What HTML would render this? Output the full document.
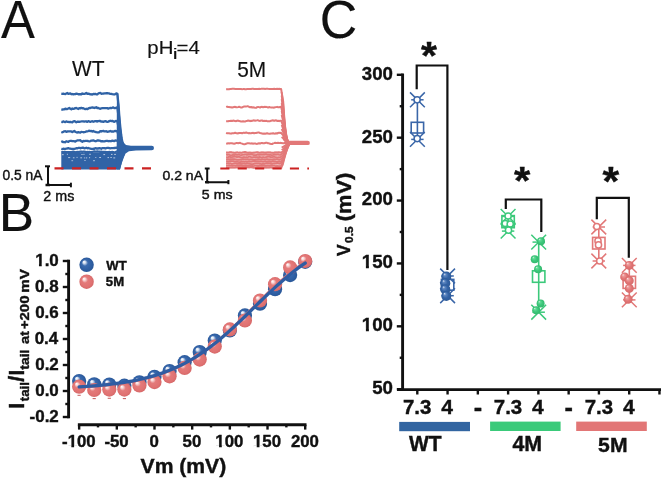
<!DOCTYPE html>
<html><head><meta charset="utf-8"><style>
html,body{margin:0;padding:0;background:#fff;width:661px;height:478px;overflow:hidden}
svg{display:block;font-family:"Liberation Sans",sans-serif;will-change:transform}
text{stroke:#111;stroke-width:0.4px}
text.thin{stroke-width:0.15px}
</style></head><body>
<svg width="661" height="478" viewBox="0 0 661 478">
<rect width="661" height="478" fill="#fff"/>
<text class="thin" x="0.95" y="38.00" font-size="53.92" font-weight="normal" textLength="33.85" lengthAdjust="spacingAndGlyphs" fill="#111">A</text>
<text class="thin" x="147.37" y="54.04" font-size="18.08" font-weight="normal" textLength="26.09" lengthAdjust="spacingAndGlyphs" fill="#111">pH</text>
<text class="thin" x="172.65" y="58.80" font-size="14.62" font-weight="normal" textLength="4.80" lengthAdjust="spacingAndGlyphs" fill="#111">i</text>
<text class="thin" x="176.60" y="53.90" font-size="17.88" font-weight="normal" textLength="23.30" lengthAdjust="spacingAndGlyphs" fill="#111">=4</text>
<text class="thin" x="71.90" y="76.20" font-size="21.80" font-weight="normal" textLength="32.58" lengthAdjust="spacingAndGlyphs" fill="#111">WT</text>
<text class="thin" x="237.27" y="76.59" font-size="21.49" font-weight="normal" textLength="28.95" lengthAdjust="spacingAndGlyphs" fill="#111">5M</text>
<path d="M61.3,152.6 L118.5,152.6 L122,152.6 L124.5,155 L122.5,160 L120,169.6 L61.3,169.6 Z" fill="#3063A6"/>
<path d="M116.9,93.5 L118.3,93.5 L119.6,110 L120.4,120 L121.9,137 L123.3,142.3 L126,144.9 L131,145.7 L151.7,145.7 A2.3,2.3 0 0 1 151.7,150.3 L136,150.5 L129,151.3 L125.6,153.5 L124,157 L121.8,163 L120,169.6 L116.6,169.6 Z" fill="#3063A6"/>
<g fill="none" stroke="#3063A6" stroke-width="2.3" stroke-linejoin="round">
<path d="M61.30,93.66 L62.30,93.86 L63.30,93.73 L64.30,93.97 L65.30,94.11 L66.30,93.46 L67.30,93.03 L68.30,93.86 L69.30,93.56 L70.30,93.35 L71.30,94.23 L72.30,94.02 L73.30,94.37 L74.30,94.09 L75.30,94.15 L76.30,93.54 L77.30,93.82 L78.30,94.28 L79.30,94.08 L80.30,94.24 L81.30,94.24 L82.30,93.44 L83.30,93.90 L84.30,93.93 L85.30,93.56 L86.30,93.00 L87.30,93.77 L88.30,93.68 L89.30,93.94 L90.30,94.29 L91.30,94.26 L92.30,94.51 L93.30,93.96 L94.30,94.18 L95.30,93.83 L96.30,94.27 L97.30,94.43 L98.30,93.50 L99.30,93.03 L100.30,92.87 L101.30,93.75 L102.30,93.54 L103.30,93.67 L104.30,93.31 L105.30,93.38 L106.30,93.25 L107.30,93.13 L108.30,93.36 L109.30,93.48 L110.30,93.96 L111.30,93.92 L112.30,94.22 L113.30,94.29 L114.30,94.49 L115.30,94.18 L116.30,93.35 L117.30,93.79 L118.47,104.37 L119.13,113.95 L119.80,122.11 L120.47,128.94 L121.13,134.53 L121.80,138.98 L122.47,142.38 L123.13,144.86 L123.80,146.51 L124.47,147.48 L125.13,147.91 L125.80,148.00"/>
<path d="M61.30,109.40 L62.30,109.64 L63.30,109.32 L64.30,109.33 L65.30,108.67 L66.30,109.10 L67.30,109.00 L68.30,108.56 L69.30,108.02 L70.30,108.74 L71.30,109.30 L72.30,108.43 L73.30,108.87 L74.30,108.60 L75.30,108.10 L76.30,108.00 L77.30,108.56 L78.30,108.99 L79.30,108.14 L80.30,108.41 L81.30,107.81 L82.30,108.34 L83.30,108.12 L84.30,108.71 L85.30,109.15 L86.30,108.77 L87.30,109.19 L88.30,108.52 L89.30,107.84 L90.30,108.13 L91.30,107.55 L92.30,107.43 L93.30,107.63 L94.30,108.00 L95.30,107.60 L96.30,107.23 L97.30,108.08 L98.30,107.83 L99.30,108.51 L100.30,108.80 L101.30,108.28 L102.30,108.09 L103.30,108.05 L104.30,108.19 L105.30,108.19 L106.30,108.13 L107.30,108.17 L108.30,108.60 L109.30,108.26 L110.30,107.97 L111.30,108.18 L112.30,107.66 L113.30,107.44 L114.30,108.19 L115.30,108.01 L116.30,107.93 L117.30,107.18 L118.47,115.86 L119.13,122.91 L119.80,128.93 L120.47,133.96 L121.13,138.08 L121.80,141.35 L122.47,143.86 L123.13,145.68 L123.80,146.90 L124.47,147.62 L125.13,147.94 L125.80,148.00"/>
<path d="M61.30,121.89 L62.30,122.03 L63.30,121.37 L64.30,121.78 L65.30,122.02 L66.30,121.41 L67.30,121.80 L68.30,121.80 L69.30,122.07 L70.30,121.79 L71.30,122.09 L72.30,122.29 L73.30,121.46 L74.30,121.05 L75.30,121.62 L76.30,122.30 L77.30,121.75 L78.30,121.70 L79.30,121.85 L80.30,121.57 L81.30,121.47 L82.30,121.34 L83.30,121.34 L84.30,121.62 L85.30,121.39 L86.30,121.36 L87.30,121.85 L88.30,121.14 L89.30,121.45 L90.30,121.84 L91.30,121.49 L92.30,121.18 L93.30,121.75 L94.30,121.33 L95.30,121.03 L96.30,121.18 L97.30,121.60 L98.30,121.05 L99.30,121.02 L100.30,121.02 L101.30,121.66 L102.30,121.50 L103.30,121.94 L104.30,121.29 L105.30,121.14 L106.30,121.46 L107.30,121.94 L108.30,121.63 L109.30,121.16 L110.30,120.76 L111.30,121.07 L112.30,120.79 L113.30,121.44 L114.30,121.82 L115.30,121.18 L116.30,120.95 L117.30,121.50 L118.47,126.71 L119.13,131.38 L119.80,135.36 L120.47,138.70 L121.13,141.43 L121.80,143.60 L122.47,145.26 L123.13,146.47 L123.80,147.27 L124.47,147.75 L125.13,147.96 L125.80,148.00"/>
<path d="M61.30,131.98 L62.30,132.29 L63.30,131.85 L64.30,131.33 L65.30,131.24 L66.30,131.85 L67.30,131.49 L68.30,131.39 L69.30,131.42 L70.30,131.44 L71.30,131.43 L72.30,132.08 L73.30,131.45 L74.30,130.89 L75.30,131.80 L76.30,132.22 L77.30,132.58 L78.30,132.06 L79.30,132.43 L80.30,132.61 L81.30,131.78 L82.30,132.00 L83.30,132.24 L84.30,132.14 L85.30,131.89 L86.30,131.45 L87.30,131.27 L88.30,131.02 L89.30,130.67 L90.30,131.15 L91.30,131.01 L92.30,131.62 L93.30,130.95 L94.30,131.69 L95.30,131.82 L96.30,132.19 L97.30,132.35 L98.30,132.44 L99.30,132.06 L100.30,131.12 L101.30,131.54 L102.30,131.03 L103.30,130.91 L104.30,131.31 L105.30,131.34 L106.30,131.21 L107.30,131.82 L108.30,131.72 L109.30,131.32 L110.30,130.97 L111.30,131.57 L112.30,131.39 L113.30,131.68 L114.30,131.28 L115.30,130.86 L116.30,131.05 L117.30,131.53 L118.47,134.60 L119.13,137.54 L119.80,140.05 L120.47,142.15 L121.13,143.86 L121.80,145.23 L122.47,146.28 L123.13,147.03 L123.80,147.54 L124.47,147.84 L125.13,147.97 L125.80,148.00"/>
<path d="M61.30,141.07 L62.30,141.63 L63.30,142.11 L64.30,142.21 L65.30,142.29 L66.30,141.26 L67.30,141.50 L68.30,141.93 L69.30,141.11 L70.30,140.94 L71.30,140.84 L72.30,141.11 L73.30,141.12 L74.30,141.19 L75.30,141.61 L76.30,140.84 L77.30,140.47 L78.30,140.36 L79.30,140.29 L80.30,140.18 L81.30,141.29 L82.30,141.74 L83.30,140.98 L84.30,141.10 L85.30,140.92 L86.30,140.81 L87.30,140.80 L88.30,141.17 L89.30,141.29 L90.30,141.06 L91.30,140.70 L92.30,140.68 L93.30,140.40 L94.30,140.80 L95.30,141.23 L96.30,141.02 L97.30,140.51 L98.30,140.35 L99.30,140.52 L100.30,140.90 L101.30,141.34 L102.30,141.05 L103.30,141.44 L104.30,141.41 L105.30,141.14 L106.30,140.92 L107.30,140.95 L108.30,141.23 L109.30,141.01 L110.30,141.24 L111.30,141.06 L112.30,140.67 L113.30,140.84 L114.30,141.13 L115.30,140.47 L116.30,140.57 L117.30,140.61 L118.47,142.34 L119.13,143.58 L119.80,144.64 L120.47,145.53 L121.13,146.25 L121.80,146.83 L122.47,147.27 L123.13,147.59 L123.80,147.81 L124.47,147.93 L125.13,147.99 L125.80,148.00"/>
<path d="M61.30,148.85 L62.30,149.08 L63.30,148.70 L64.30,148.96 L65.30,149.01 L66.30,148.55 L67.30,148.48 L68.30,148.12 L69.30,148.56 L70.30,148.65 L71.30,148.91 L72.30,148.96 L73.30,148.87 L74.30,148.88 L75.30,148.73 L76.30,148.23 L77.30,148.39 L78.30,147.94 L79.30,147.82 L80.30,148.33 L81.30,147.94 L82.30,147.77 L83.30,147.68 L84.30,148.33 L85.30,148.06 L86.30,147.76 L87.30,148.34 L88.30,148.00 L89.30,148.47 L90.30,148.57 L91.30,148.77 L92.30,148.98 L93.30,148.76 L94.30,148.83 L95.30,148.17 L96.30,148.48 L97.30,148.41 L98.30,148.55 L99.30,148.08 L100.30,148.40 L101.30,148.74 L102.30,148.13 L103.30,148.03 L104.30,148.19 L105.30,148.52 L106.30,148.17 L107.30,147.91 L108.30,147.83 L109.30,148.12 L110.30,148.40 L111.30,148.23 L112.30,148.10 L113.30,148.06 L114.30,147.99 L115.30,148.01 L116.30,147.72 L117.30,147.93 L118.47,148.18 L119.13,148.15 L119.80,148.13 L120.47,148.11 L121.13,148.09 L121.80,148.07 L122.47,148.05 L123.13,148.04 L123.80,148.03 L124.47,148.01 L125.13,148.00 L125.80,148.00"/>
<path d="M61.30,152.37 L62.30,152.13 L63.30,152.26 L64.30,151.87 L65.30,152.07 L66.30,152.23 L67.30,152.25 L68.30,152.14 L69.30,152.05 L70.30,152.12 L71.30,152.36 L72.30,151.90 L73.30,151.61 L74.30,151.96 L75.30,152.28 L76.30,152.14 L77.30,152.00 L78.30,152.14 L79.30,151.80 L80.30,151.68 L81.30,151.55 L82.30,151.79 L83.30,151.70 L84.30,151.59 L85.30,151.88 L86.30,152.25 L87.30,151.93 L88.30,152.08 L89.30,151.93 L90.30,152.19 L91.30,152.12 L92.30,151.83 L93.30,151.63 L94.30,151.37 L95.30,151.58 L96.30,151.62 L97.30,151.48 L98.30,151.54 L99.30,151.55 L100.30,151.90 L101.30,151.60 L102.30,152.10 L103.30,151.97 L104.30,151.99 L105.30,151.90 L106.30,152.13 L107.30,152.25 L108.30,152.10 L109.30,151.96 L110.30,152.07 L111.30,152.23 L112.30,151.97 L113.30,152.08 L114.30,152.32 L115.30,152.06 L116.30,151.73 L117.30,151.55 L118.47,151.34 L119.13,150.89 L119.80,150.47 L120.47,150.07 L121.13,149.69 L121.80,149.34 L122.47,149.02 L123.13,148.73 L123.80,148.47 L124.47,148.26 L125.13,148.09 L125.80,148.00"/>
</g>
<path d="M62.0,154.7h1.7M66.9,154.3h1.0M81.4,154.5h1.2M83.4,154.4h1.1M89.3,154.3h1.5M103.4,154.6h1.7M111.0,154.4h1.5M114.2,154.4h1.7" stroke="#fff" stroke-width="0.9" opacity="0.75" fill="none"/>
<path d="M68.1,157.6h2.1M72.9,157.8h1.6M76.5,157.4h1.1M80.3,157.8h1.8M83.9,157.9h1.0M85.8,157.9h1.4M89.0,157.7h1.1M95.3,157.5h1.0M99.2,157.5h1.8M107.5,157.6h1.5M110.4,157.5h1.4M113.3,157.9h1.9" stroke="#fff" stroke-width="0.9" opacity="0.7" fill="none"/>
<path d="M71.4,160.7h1.7M84.3,160.5h1.4M93.0,160.7h2.0" stroke="#fff" stroke-width="0.9" opacity="0.6" fill="none"/>
<path d="M226.1,151.6 L281.6,151.6 L282.6,160 L282.4,168.6 L226.1,168.6 Z" fill="#E27878" opacity="0.55"/>
<g fill="none" stroke="#E27878" stroke-width="2.0" stroke-linejoin="round">
<path d="M226.10,89.21 L227.10,89.14 L228.10,89.20 L229.10,89.15 L230.10,89.00 L231.10,88.90 L232.10,88.85 L233.10,88.86 L234.10,88.86 L235.10,88.96 L236.10,89.07 L237.10,89.09 L238.10,89.06 L239.10,89.11 L240.10,89.03 L241.10,89.04 L242.10,89.13 L243.10,89.07 L244.10,88.97 L245.10,89.14 L246.10,89.17 L247.10,89.08 L248.10,89.03 L249.10,89.05 L250.10,89.08 L251.10,88.98 L252.10,88.86 L253.10,88.85 L254.10,89.03 L255.10,88.93 L256.10,88.97 L257.10,88.91 L258.10,88.88 L259.10,88.85 L260.10,88.90 L261.10,88.86 L262.10,88.79 L263.10,88.78 L264.10,88.79 L265.10,88.89 L266.10,88.81 L267.10,88.76 L268.10,88.86 L269.10,88.90 L270.10,89.02 L271.10,88.88 L272.10,88.91 L273.10,88.92 L274.10,88.82 L275.10,89.05 L276.10,88.94 L277.10,88.84 L278.10,88.91 L279.10,88.85 L280.10,88.95 L281.10,88.93 L283.17,101.38 L283.83,111.71 L284.50,120.16 L285.17,126.93 L285.83,132.20 L286.50,136.16 L287.17,139.00 L287.83,140.90 L288.50,142.06 L289.17,142.65 L289.83,142.87 L290.50,142.90"/>
<path d="M226.10,106.86 L227.10,106.60 L228.10,107.08 L229.10,106.92 L230.10,107.31 L231.10,107.22 L232.10,107.60 L233.10,107.23 L234.10,106.98 L235.10,106.86 L236.10,107.29 L237.10,107.36 L238.10,107.13 L239.10,106.78 L240.10,107.12 L241.10,107.57 L242.10,107.47 L243.10,106.88 L244.10,106.58 L245.10,106.47 L246.10,106.48 L247.10,106.37 L248.10,106.32 L249.10,106.83 L250.10,107.34 L251.10,106.98 L252.10,107.49 L253.10,107.32 L254.10,107.52 L255.10,107.73 L256.10,107.87 L257.10,107.12 L258.10,106.95 L259.10,107.13 L260.10,107.54 L261.10,106.98 L262.10,106.86 L263.10,107.30 L264.10,106.87 L265.10,106.89 L266.10,106.84 L267.10,107.13 L268.10,107.52 L269.10,107.04 L270.10,107.30 L271.10,107.43 L272.10,107.59 L273.10,107.43 L274.10,107.67 L275.10,107.29 L276.10,107.13 L277.10,106.87 L278.10,107.23 L279.10,107.16 L280.10,106.92 L281.10,106.70 L283.17,115.32 L283.83,122.18 L284.50,127.80 L285.17,132.29 L285.83,135.79 L286.50,138.43 L287.17,140.31 L287.83,141.57 L288.50,142.34 L289.17,142.73 L289.83,142.88 L290.50,142.90"/>
<path d="M226.10,121.20 L227.10,121.20 L228.10,121.30 L229.10,121.06 L230.10,121.02 L231.10,120.69 L232.10,121.01 L233.10,120.57 L234.10,120.72 L235.10,121.08 L236.10,121.19 L237.10,120.73 L238.10,120.60 L239.10,121.08 L240.10,121.16 L241.10,121.42 L242.10,121.56 L243.10,121.25 L244.10,121.48 L245.10,121.46 L246.10,121.08 L247.10,120.91 L248.10,120.54 L249.10,120.64 L250.10,121.19 L251.10,120.73 L252.10,120.89 L253.10,120.56 L254.10,120.35 L255.10,120.76 L256.10,120.60 L257.10,120.35 L258.10,120.30 L259.10,120.72 L260.10,120.89 L261.10,120.47 L262.10,120.43 L263.10,121.08 L264.10,120.76 L265.10,120.89 L266.10,120.83 L267.10,121.13 L268.10,121.13 L269.10,121.30 L270.10,121.16 L271.10,120.77 L272.10,120.54 L273.10,120.32 L274.10,120.89 L275.10,120.54 L276.10,120.27 L277.10,120.98 L278.10,120.67 L279.10,121.13 L280.10,120.65 L281.10,120.73 L283.17,125.95 L283.83,130.17 L284.50,133.62 L285.17,136.38 L285.83,138.53 L286.50,140.15 L287.17,141.31 L287.83,142.09 L288.50,142.56 L289.17,142.80 L289.83,142.89 L290.50,142.90"/>
<path d="M226.10,132.85 L227.10,133.26 L228.10,133.29 L229.10,133.33 L230.10,133.46 L231.10,133.63 L232.10,133.25 L233.10,133.27 L234.10,133.14 L235.10,132.76 L236.10,133.21 L237.10,133.24 L238.10,133.45 L239.10,133.01 L240.10,133.08 L241.10,133.04 L242.10,133.26 L243.10,132.79 L244.10,132.77 L245.10,132.89 L246.10,132.58 L247.10,132.84 L248.10,133.15 L249.10,133.04 L250.10,133.18 L251.10,133.22 L252.10,132.88 L253.10,132.82 L254.10,133.37 L255.10,133.08 L256.10,133.00 L257.10,132.64 L258.10,132.56 L259.10,132.47 L260.10,133.12 L261.10,133.29 L262.10,133.51 L263.10,133.74 L264.10,133.52 L265.10,133.69 L266.10,133.42 L267.10,133.17 L268.10,133.51 L269.10,133.66 L270.10,133.78 L271.10,133.42 L272.10,133.49 L273.10,133.19 L274.10,133.56 L275.10,133.70 L276.10,133.20 L277.10,133.51 L278.10,132.99 L279.10,132.63 L280.10,133.00 L281.10,132.81 L283.17,135.27 L283.83,137.17 L284.50,138.72 L285.17,139.97 L285.83,140.93 L286.50,141.66 L287.17,142.18 L287.83,142.53 L288.50,142.75 L289.17,142.85 L289.83,142.89 L290.50,142.90"/>
<path d="M226.10,143.52 L227.10,143.63 L228.10,143.15 L229.10,143.53 L230.10,143.31 L231.10,143.33 L232.10,143.26 L233.10,143.58 L234.10,143.76 L235.10,143.44 L236.10,143.10 L237.10,143.09 L238.10,143.18 L239.10,142.93 L240.10,142.86 L241.10,143.37 L242.10,143.60 L243.10,143.97 L244.10,144.18 L245.10,144.20 L246.10,143.75 L247.10,143.31 L248.10,143.21 L249.10,143.29 L250.10,143.39 L251.10,143.45 L252.10,143.32 L253.10,143.70 L254.10,143.39 L255.10,143.38 L256.10,143.76 L257.10,143.90 L258.10,143.51 L259.10,143.24 L260.10,143.61 L261.10,143.08 L262.10,142.91 L263.10,143.17 L264.10,143.32 L265.10,143.06 L266.10,142.82 L267.10,142.82 L268.10,143.34 L269.10,143.34 L270.10,143.81 L271.10,143.89 L272.10,144.11 L273.10,143.38 L274.10,143.11 L275.10,142.80 L276.10,143.01 L277.10,143.04 L278.10,142.80 L279.10,143.11 L280.10,142.87 L281.10,142.94 L283.17,143.29 L283.83,143.19 L284.50,143.11 L285.17,143.05 L285.83,143.00 L286.50,142.96 L287.17,142.94 L287.83,142.92 L288.50,142.91 L289.17,142.90 L289.83,142.90 L290.50,142.90"/>
</g>
<g fill="none" stroke="#E27878" stroke-width="1.75" stroke-linejoin="round">
<path d="M226.10,152.30 L227.10,152.63 L228.10,152.50 L229.10,152.31 L230.10,152.04 L231.10,152.18 L232.10,152.42 L233.10,152.59 L234.10,152.86 L235.10,152.93 L236.10,152.53 L237.10,152.22 L238.10,152.54 L239.10,152.74 L240.10,152.62 L241.10,152.81 L242.10,152.70 L243.10,152.42 L244.10,152.18 L245.10,151.93 L246.10,152.28 L247.10,152.67 L248.10,152.89 L249.10,152.67 L250.10,152.70 L251.10,152.92 L252.10,152.96 L253.10,152.81 L254.10,152.58 L255.10,152.53 L256.10,152.24 L257.10,152.08 L258.10,152.39 L259.10,152.79 L260.10,152.67 L261.10,152.49 L262.10,152.35 L263.10,152.35 L264.10,152.62 L265.10,152.50 L266.10,152.82 L267.10,152.37 L268.10,152.25 L269.10,152.34 L270.10,152.31 L271.10,152.63 L272.10,152.79 L273.10,152.96 L274.10,152.80 L275.10,152.26 L276.10,152.38 L277.10,152.43 L278.10,152.41 L279.10,152.23 L280.10,152.47 L281.10,152.76 L282.91,151.24 L283.62,150.13 L284.33,149.07 L285.03,148.07 L285.74,147.13 L286.45,146.26 L287.16,145.46 L287.87,144.73 L288.58,144.09 L289.28,143.55 L289.99,143.13 L290.70,142.90"/>
<path d="M226.10,154.49 L227.10,154.76 L228.10,154.67 L229.10,154.74 L230.10,155.07 L231.10,155.30 L232.10,155.18 L233.10,154.77 L234.10,155.10 L235.10,154.71 L236.10,154.65 L237.10,154.96 L238.10,154.74 L239.10,154.57 L240.10,155.01 L241.10,155.25 L242.10,154.89 L243.10,154.75 L244.10,154.59 L245.10,154.38 L246.10,154.36 L247.10,154.91 L248.10,154.51 L249.10,154.41 L250.10,154.33 L251.10,154.19 L252.10,154.46 L253.10,154.78 L254.10,155.03 L255.10,155.00 L256.10,155.14 L257.10,154.57 L258.10,154.48 L259.10,154.95 L260.10,154.52 L261.10,154.44 L262.10,154.56 L263.10,154.45 L264.10,154.61 L265.10,154.31 L266.10,154.29 L267.10,154.84 L268.10,154.51 L269.10,154.92 L270.10,154.58 L271.10,155.03 L272.10,155.02 L273.10,155.00 L274.10,154.59 L275.10,154.30 L276.10,154.68 L277.10,154.44 L278.10,154.32 L279.10,154.74 L280.10,155.02 L281.10,154.52 L282.91,153.26 L283.62,151.88 L284.33,150.56 L285.03,149.32 L285.74,148.16 L286.45,147.07 L287.16,146.07 L287.87,145.17 L288.58,144.38 L289.28,143.70 L289.99,143.18 L290.70,142.90"/>
<path d="M226.10,157.46 L227.10,157.32 L228.10,157.13 L229.10,156.81 L230.10,156.85 L231.10,157.34 L232.10,157.05 L233.10,156.78 L234.10,156.64 L235.10,156.55 L236.10,156.67 L237.10,157.18 L238.10,156.80 L239.10,156.68 L240.10,157.20 L241.10,157.53 L242.10,157.70 L243.10,157.22 L244.10,157.03 L245.10,157.40 L246.10,157.24 L247.10,157.32 L248.10,157.05 L249.10,156.68 L250.10,156.73 L251.10,157.07 L252.10,157.28 L253.10,157.23 L254.10,157.12 L255.10,157.12 L256.10,157.04 L257.10,157.07 L258.10,157.31 L259.10,156.96 L260.10,157.07 L261.10,157.39 L262.10,157.50 L263.10,157.04 L264.10,157.40 L265.10,157.50 L266.10,157.03 L267.10,156.84 L268.10,156.69 L269.10,156.49 L270.10,157.10 L271.10,156.99 L272.10,157.29 L273.10,156.87 L274.10,156.55 L275.10,157.05 L276.10,157.26 L277.10,157.53 L278.10,157.44 L279.10,157.26 L280.10,157.35 L281.10,156.87 L282.91,155.27 L283.62,153.63 L284.33,152.06 L285.03,150.58 L285.74,149.18 L286.45,147.89 L287.16,146.69 L287.87,145.61 L288.58,144.66 L289.28,143.86 L289.99,143.24 L290.70,142.90"/>
<path d="M226.10,159.43 L227.10,159.37 L228.10,159.10 L229.10,159.31 L230.10,159.21 L231.10,159.30 L232.10,159.24 L233.10,159.16 L234.10,159.15 L235.10,159.33 L236.10,159.73 L237.10,159.91 L238.10,159.95 L239.10,159.95 L240.10,159.53 L241.10,159.83 L242.10,159.44 L243.10,159.11 L244.10,159.23 L245.10,159.47 L246.10,159.30 L247.10,159.44 L248.10,159.23 L249.10,159.65 L250.10,159.48 L251.10,159.41 L252.10,159.41 L253.10,159.67 L254.10,159.91 L255.10,159.68 L256.10,159.48 L257.10,159.51 L258.10,159.10 L259.10,159.15 L260.10,159.50 L261.10,159.64 L262.10,159.16 L263.10,159.51 L264.10,159.34 L265.10,159.71 L266.10,159.43 L267.10,159.16 L268.10,159.27 L269.10,159.59 L270.10,159.42 L271.10,159.66 L272.10,159.67 L273.10,159.40 L274.10,159.20 L275.10,159.26 L276.10,159.20 L277.10,159.15 L278.10,159.34 L279.10,159.61 L280.10,159.54 L281.10,159.15 L282.91,157.29 L283.62,155.38 L284.33,153.55 L285.03,151.83 L285.74,150.21 L286.45,148.70 L287.16,147.31 L287.87,146.06 L288.58,144.95 L289.28,144.02 L289.99,143.29 L290.70,142.90"/>
<path d="M226.10,161.38 L227.10,161.38 L228.10,161.56 L229.10,161.30 L230.10,161.10 L231.10,161.18 L232.10,161.19 L233.10,161.00 L234.10,161.29 L235.10,161.75 L236.10,161.70 L237.10,161.83 L238.10,161.97 L239.10,162.06 L240.10,162.16 L241.10,161.85 L242.10,161.87 L243.10,161.44 L244.10,161.79 L245.10,161.59 L246.10,161.56 L247.10,161.86 L248.10,161.56 L249.10,161.32 L250.10,161.68 L251.10,161.70 L252.10,161.31 L253.10,161.05 L254.10,161.16 L255.10,160.95 L256.10,161.48 L257.10,161.26 L258.10,161.21 L259.10,161.27 L260.10,161.40 L261.10,161.41 L262.10,161.56 L263.10,161.67 L264.10,161.56 L265.10,161.23 L266.10,161.74 L267.10,161.79 L268.10,161.34 L269.10,161.38 L270.10,161.64 L271.10,161.97 L272.10,161.43 L273.10,161.08 L274.10,161.26 L275.10,161.31 L276.10,161.71 L277.10,161.87 L278.10,161.57 L279.10,161.48 L280.10,161.55 L281.10,161.83 L282.91,159.22 L283.62,157.05 L284.33,154.98 L285.03,153.02 L285.74,151.19 L286.45,149.48 L287.16,147.90 L287.87,146.48 L288.58,145.22 L289.28,144.17 L289.99,143.35 L290.70,142.90"/>
<path d="M226.10,163.47 L227.10,163.49 L228.10,163.26 L229.10,163.56 L230.10,163.25 L231.10,163.79 L232.10,163.76 L233.10,163.78 L234.10,163.42 L235.10,163.33 L236.10,163.46 L237.10,163.84 L238.10,163.80 L239.10,163.57 L240.10,163.99 L241.10,163.97 L242.10,163.86 L243.10,163.54 L244.10,163.44 L245.10,163.85 L246.10,163.48 L247.10,163.59 L248.10,163.71 L249.10,163.57 L250.10,163.82 L251.10,164.06 L252.10,164.16 L253.10,164.11 L254.10,163.67 L255.10,163.32 L256.10,163.41 L257.10,163.37 L258.10,163.25 L259.10,163.72 L260.10,163.46 L261.10,163.79 L262.10,164.06 L263.10,163.57 L264.10,163.92 L265.10,163.71 L266.10,163.45 L267.10,163.28 L268.10,163.07 L269.10,163.32 L270.10,163.36 L271.10,163.75 L272.10,163.95 L273.10,163.45 L274.10,163.45 L275.10,163.43 L276.10,163.26 L277.10,163.22 L278.10,163.21 L279.10,163.54 L280.10,163.44 L281.10,163.21 L282.91,161.07 L283.62,158.65 L284.33,156.35 L285.03,154.17 L285.74,152.12 L286.45,150.22 L287.16,148.47 L287.87,146.88 L288.58,145.49 L289.28,144.31 L289.99,143.40 L290.70,142.90"/>
<path d="M226.10,165.48 L227.10,165.53 L228.10,165.66 L229.10,165.47 L230.10,165.73 L231.10,165.49 L232.10,165.71 L233.10,165.78 L234.10,165.49 L235.10,165.77 L236.10,165.65 L237.10,165.69 L238.10,165.76 L239.10,165.82 L240.10,165.71 L241.10,165.35 L242.10,165.71 L243.10,165.97 L244.10,165.83 L245.10,165.82 L246.10,165.57 L247.10,165.92 L248.10,165.95 L249.10,165.60 L250.10,165.87 L251.10,166.15 L252.10,165.81 L253.10,166.12 L254.10,165.90 L255.10,165.53 L256.10,165.75 L257.10,165.58 L258.10,165.79 L259.10,165.78 L260.10,165.41 L261.10,165.53 L262.10,165.85 L263.10,165.74 L264.10,165.72 L265.10,165.96 L266.10,165.77 L267.10,165.70 L268.10,165.73 L269.10,165.93 L270.10,165.56 L271.10,165.27 L272.10,165.63 L273.10,165.66 L274.10,165.49 L275.10,165.85 L276.10,166.04 L277.10,165.88 L278.10,166.13 L279.10,166.16 L280.10,166.10 L281.10,165.71 L282.91,162.82 L283.62,160.17 L284.33,157.64 L285.03,155.26 L285.74,153.01 L286.45,150.93 L287.16,149.01 L287.87,147.27 L288.58,145.74 L289.28,144.44 L289.99,143.45 L290.70,142.90"/>
<path d="M226.10,167.22 L227.10,167.53 L228.10,167.74 L229.10,167.56 L230.10,167.56 L231.10,167.62 L232.10,167.41 L233.10,167.64 L234.10,167.67 L235.10,167.54 L236.10,167.25 L237.10,167.44 L238.10,167.36 L239.10,167.63 L240.10,167.35 L241.10,167.37 L242.10,167.22 L243.10,167.31 L244.10,167.48 L245.10,167.21 L246.10,167.02 L247.10,167.25 L248.10,167.16 L249.10,167.34 L250.10,167.18 L251.10,167.03 L252.10,167.30 L253.10,167.74 L254.10,167.94 L255.10,167.78 L256.10,167.59 L257.10,167.23 L258.10,167.20 L259.10,167.20 L260.10,167.70 L261.10,167.33 L262.10,167.77 L263.10,167.64 L264.10,167.54 L265.10,167.35 L266.10,167.79 L267.10,167.43 L268.10,167.52 L269.10,167.53 L270.10,167.29 L271.10,167.18 L272.10,167.71 L273.10,167.85 L274.10,167.88 L275.10,168.03 L276.10,167.48 L277.10,167.65 L278.10,167.78 L279.10,167.44 L280.10,167.43 L281.10,167.83 L282.91,164.49 L283.62,161.61 L284.33,158.88 L285.03,156.29 L285.74,153.86 L286.45,151.60 L287.16,149.52 L287.87,147.63 L288.58,145.97 L289.28,144.57 L289.99,143.49 L290.70,142.90"/>
</g>
<g fill="none" stroke="#E27878" stroke-width="1.8">
<path d="M281.60,92.00 L283.17,103.69 L283.83,113.44 L284.50,121.43 L285.17,127.82 L285.83,132.80 L286.50,136.54 L287.17,139.22 L287.83,141.01 L288.50,142.10 L289.17,142.66 L289.83,142.87 L290.50,142.90"/>
<path d="M281.60,95.50 L283.17,106.39 L283.83,115.47 L284.50,122.90 L285.17,128.86 L285.83,133.49 L286.50,136.97 L287.17,139.47 L287.83,141.14 L288.50,142.16 L289.17,142.68 L289.83,142.87 L290.50,142.90"/>
<path d="M281.60,99.00 L283.17,109.09 L283.83,117.49 L284.50,124.38 L285.17,129.89 L285.83,134.19 L286.50,137.41 L287.17,139.72 L287.83,141.27 L288.50,142.21 L289.17,142.70 L289.83,142.87 L290.50,142.90"/>
<path d="M281.60,103.00 L283.17,112.17 L283.83,119.81 L284.50,126.07 L285.17,131.08 L285.83,134.98 L286.50,137.91 L287.17,140.01 L287.83,141.42 L288.50,142.28 L289.17,142.72 L289.83,142.88 L290.50,142.90"/>
<path d="M281.60,111.00 L283.17,118.33 L283.83,124.44 L284.50,129.44 L285.17,133.45 L285.83,136.57 L286.50,138.91 L287.17,140.59 L287.83,141.72 L288.50,142.40 L289.17,142.75 L289.83,142.88 L290.50,142.90"/>
<path d="M281.60,115.00 L283.17,121.41 L283.83,126.75 L284.50,131.13 L285.17,134.63 L285.83,137.36 L286.50,139.41 L287.17,140.88 L287.83,141.87 L288.50,142.46 L289.17,142.77 L289.83,142.88 L290.50,142.90"/>
<path d="M281.60,125.00 L283.17,129.11 L283.83,132.54 L284.50,135.35 L285.17,137.60 L285.83,139.35 L286.50,140.66 L287.17,141.61 L287.83,142.24 L288.50,142.62 L289.17,142.82 L289.83,142.89 L290.50,142.90"/>
<path d="M281.60,129.00 L283.17,132.19 L283.83,134.86 L284.50,137.04 L285.17,138.78 L285.83,140.14 L286.50,141.16 L287.17,141.89 L287.83,142.39 L288.50,142.68 L289.17,142.84 L289.83,142.89 L290.50,142.90"/>
<path d="M281.60,137.00 L283.17,138.36 L283.83,139.49 L284.50,140.41 L285.17,141.15 L285.83,141.73 L286.50,142.16 L287.17,142.47 L287.83,142.68 L288.50,142.81 L289.17,142.87 L289.83,142.90 L290.50,142.90"/>
<path d="M281.60,147.50 L282.91,146.94 L283.62,146.40 L284.33,145.89 L285.03,145.40 L285.74,144.95 L286.45,144.53 L287.16,144.14 L287.87,143.79 L288.58,143.47 L289.28,143.21 L289.99,143.01 L290.70,142.90"/>
<path d="M281.60,150.00 L282.91,149.13 L283.62,148.30 L284.33,147.51 L285.03,146.76 L285.74,146.06 L286.45,145.41 L287.16,144.81 L287.87,144.27 L288.58,143.79 L289.28,143.38 L289.99,143.07 L290.70,142.90"/>
</g>
<path d="M288.5,142.9 L307.7,142.9" stroke="#E27878" stroke-width="4.4" stroke-linecap="round" fill="none"/>
<line x1="54.50" y1="168.40" x2="151.20" y2="168.40" stroke="#CC2222" stroke-width="2.2" stroke-dasharray="9 8.5"/>
<line x1="220.30" y1="168.40" x2="309.00" y2="168.40" stroke="#CC2222" stroke-width="2.0" stroke-dasharray="9.1 8.3"/>
<g stroke="#111" stroke-width="2" fill="none">
<path d="M48,166.3 L48,185 L71,185"/>
<line x1="45.00" y1="166.30" x2="50.00" y2="166.30" stroke="#111" stroke-width="2"/>
<line x1="70.90" y1="182.70" x2="70.90" y2="187.30" stroke="#111" stroke-width="2"/>
<line x1="45.50" y1="185.00" x2="50.00" y2="185.00" stroke="#111" stroke-width="2.5"/>
<path d="M207.2,168.5 L207.2,182.2 L228.4,182.2"/>
<line x1="204.80" y1="168.50" x2="209.60" y2="168.50" stroke="#111" stroke-width="2"/>
<line x1="228.40" y1="180.00" x2="228.40" y2="184.20" stroke="#111" stroke-width="2"/>
<line x1="205.00" y1="182.20" x2="209.00" y2="182.20" stroke="#111" stroke-width="2.4"/>
</g>
<text x="2.46" y="180.35" font-size="14.97" font-weight="normal" textLength="39.97" lengthAdjust="spacingAndGlyphs" fill="#111">0.5 nA</text>
<text x="43.39" y="200.76" font-size="13.98" font-weight="normal" textLength="30.93" lengthAdjust="spacingAndGlyphs" fill="#111">2 ms</text>
<text x="162.45" y="179.77" font-size="12.71" font-weight="normal" textLength="40.58" lengthAdjust="spacingAndGlyphs" fill="#111">0.2 nA</text>
<text x="201.83" y="198.88" font-size="12.46" font-weight="normal" textLength="30.68" lengthAdjust="spacingAndGlyphs" fill="#111">5 ms</text>
<text class="thin" x="-1.25" y="231.30" font-size="53.92" font-weight="normal" textLength="35.36" lengthAdjust="spacingAndGlyphs" fill="#111">B</text>
<g stroke="#111" stroke-width="2.9" fill="none">
<line x1="68.6" y1="259.70" x2="68.6" y2="418.30"/>
<line x1="77.85" y1="424.8" x2="306.50" y2="424.8"/>
</g>
<g stroke="#111" stroke-width="2.4">
<line x1="62.8" y1="261.00" x2="68.6" y2="261.00"/>
<line x1="62.8" y1="287.00" x2="68.6" y2="287.00"/>
<line x1="62.8" y1="313.00" x2="68.6" y2="313.00"/>
<line x1="62.8" y1="339.00" x2="68.6" y2="339.00"/>
<line x1="62.8" y1="365.00" x2="68.6" y2="365.00"/>
<line x1="62.8" y1="391.00" x2="68.6" y2="391.00"/>
<line x1="62.8" y1="417.00" x2="68.6" y2="417.00"/>
<line x1="65.3" y1="274.00" x2="68.6" y2="274.00"/>
<line x1="65.3" y1="300.00" x2="68.6" y2="300.00"/>
<line x1="65.3" y1="326.00" x2="68.6" y2="326.00"/>
<line x1="65.3" y1="352.00" x2="68.6" y2="352.00"/>
<line x1="65.3" y1="378.00" x2="68.6" y2="378.00"/>
<line x1="65.3" y1="404.00" x2="68.6" y2="404.00"/>
<line x1="79.15" y1="424.8" x2="79.15" y2="429.6"/>
<line x1="116.83" y1="424.8" x2="116.83" y2="429.6"/>
<line x1="154.50" y1="424.8" x2="154.50" y2="429.6"/>
<line x1="192.18" y1="424.8" x2="192.18" y2="429.6"/>
<line x1="229.85" y1="424.8" x2="229.85" y2="429.6"/>
<line x1="267.52" y1="424.8" x2="267.52" y2="429.6"/>
<line x1="305.20" y1="424.8" x2="305.20" y2="429.6"/>
<line x1="97.99" y1="424.8" x2="97.99" y2="427.4"/>
<line x1="135.66" y1="424.8" x2="135.66" y2="427.4"/>
<line x1="173.34" y1="424.8" x2="173.34" y2="427.4"/>
<line x1="211.01" y1="424.8" x2="211.01" y2="427.4"/>
<line x1="248.69" y1="424.8" x2="248.69" y2="427.4"/>
<line x1="286.36" y1="424.8" x2="286.36" y2="427.4"/>
</g>
<text x="35.24" y="266.03" font-size="16.95" font-weight="bold" textLength="23.56" lengthAdjust="spacingAndGlyphs" fill="#111">1.0</text>
<rect x="35.40" y="263.80" width="3.57" height="3.33" fill="#fff"/>
<rect x="41.74" y="263.80" width="3.25" height="3.33" fill="#fff"/>
<text x="35.07" y="292.03" font-size="16.95" font-weight="bold" textLength="23.56" lengthAdjust="spacingAndGlyphs" fill="#111">0.8</text>
<text x="35.15" y="318.03" font-size="16.95" font-weight="bold" textLength="23.56" lengthAdjust="spacingAndGlyphs" fill="#111">0.6</text>
<text x="34.63" y="344.03" font-size="16.95" font-weight="bold" textLength="23.56" lengthAdjust="spacingAndGlyphs" fill="#111">0.4</text>
<text x="35.22" y="370.03" font-size="16.95" font-weight="bold" textLength="23.56" lengthAdjust="spacingAndGlyphs" fill="#111">0.2</text>
<text x="35.24" y="396.03" font-size="16.95" font-weight="bold" textLength="23.56" lengthAdjust="spacingAndGlyphs" fill="#111">0.0</text>
<text x="29.57" y="422.03" font-size="16.95" font-weight="bold" textLength="29.21" lengthAdjust="spacingAndGlyphs" fill="#111">-0.2</text>
<text x="62.05" y="447.33" font-size="16.81" font-weight="bold" textLength="33.64" lengthAdjust="spacingAndGlyphs" fill="#111">-100</text>
<rect x="67.81" y="445.12" width="3.54" height="3.32" fill="#fff"/>
<rect x="74.10" y="445.12" width="3.23" height="3.32" fill="#fff"/>
<text x="104.40" y="447.33" font-size="16.81" font-weight="bold" textLength="24.29" lengthAdjust="spacingAndGlyphs" fill="#111">-50</text>
<text x="149.54" y="447.33" font-size="16.81" font-weight="bold" textLength="9.35" lengthAdjust="spacingAndGlyphs" fill="#111">0</text>
<text x="182.61" y="447.33" font-size="16.81" font-weight="bold" textLength="18.70" lengthAdjust="spacingAndGlyphs" fill="#111">50</text>
<text x="215.35" y="447.33" font-size="16.81" font-weight="bold" textLength="28.04" lengthAdjust="spacingAndGlyphs" fill="#111">100</text>
<rect x="215.51" y="445.12" width="3.54" height="3.32" fill="#fff"/>
<rect x="221.80" y="445.12" width="3.23" height="3.32" fill="#fff"/>
<text x="253.02" y="447.33" font-size="16.81" font-weight="bold" textLength="28.04" lengthAdjust="spacingAndGlyphs" fill="#111">150</text>
<rect x="253.18" y="445.12" width="3.54" height="3.32" fill="#fff"/>
<rect x="259.47" y="445.12" width="3.23" height="3.32" fill="#fff"/>
<text x="290.93" y="447.33" font-size="16.81" font-weight="bold" textLength="28.04" lengthAdjust="spacingAndGlyphs" fill="#111">200</text>
<text x="140.55" y="472.85" font-size="20.90" font-weight="bold" textLength="85.71" lengthAdjust="spacingAndGlyphs" fill="#111">Vm (mV)</text>
<g transform="translate(23.9,408) rotate(-90)">
<text x="-0.84" y="0.00" font-size="21.40" font-weight="bold" textLength="5.98" lengthAdjust="spacingAndGlyphs" fill="#111">I</text>
<text x="6.84" y="5.20" font-size="12.80" font-weight="bold" textLength="19.09" lengthAdjust="spacingAndGlyphs" fill="#111">tail</text>
<text x="26.19" y="0.30" font-size="21.40" font-weight="bold" textLength="5.92" lengthAdjust="spacingAndGlyphs" fill="#111">/</text>
<text x="32.40" y="0.00" font-size="21.40" font-weight="bold" textLength="5.79" lengthAdjust="spacingAndGlyphs" fill="#111">I</text>
<text x="38.33" y="5.20" font-size="12.80" font-weight="bold" textLength="20.16" lengthAdjust="spacingAndGlyphs" fill="#111">tail</text>
<text x="63.98" y="5.00" font-size="13.30" font-weight="bold" textLength="13.00" lengthAdjust="spacingAndGlyphs" fill="#111">at</text>
<text x="78.67" y="5.00" font-size="13.30" font-weight="bold" textLength="33.96" lengthAdjust="spacingAndGlyphs" fill="#111">+200</text>
<text x="115.19" y="5.00" font-size="13.30" font-weight="bold" textLength="23.71" lengthAdjust="spacingAndGlyphs" fill="#111">mV</text>
</g>
<defs>
<radialGradient id="gb" cx="0.5" cy="0.5" r="0.5" fx="0.3" fy="0.28">
<stop offset="0" stop-color="#ffffff"/><stop offset="0.16" stop-color="#dfe7f4"/><stop offset="0.42" stop-color="#3a6aae"/><stop offset="0.8" stop-color="#2e5ea2"/><stop offset="1" stop-color="#2a5797"/></radialGradient>
<radialGradient id="gr" cx="0.5" cy="0.5" r="0.5" fx="0.3" fy="0.28">
<stop offset="0" stop-color="#ffffff"/><stop offset="0.16" stop-color="#f9dede"/><stop offset="0.42" stop-color="#e47a7a"/><stop offset="0.8" stop-color="#e07272"/><stop offset="1" stop-color="#d66868"/></radialGradient>
</defs>
<circle cx="86.60" cy="264.80" r="7.2" fill="url(#gb)"/>
<circle cx="86.60" cy="281.70" r="7.2" fill="url(#gr)"/>
<text x="106.29" y="269.90" font-size="13.52" font-weight="bold" textLength="20.35" lengthAdjust="spacingAndGlyphs" fill="#111">WT</text>
<text x="105.89" y="286.17" font-size="12.89" font-weight="bold" textLength="18.29" lengthAdjust="spacingAndGlyphs" fill="#111">5M</text>
<circle cx="79.15" cy="381.10" r="7.1" fill="url(#gb)"/>
<circle cx="94.22" cy="384.30" r="7.1" fill="url(#gb)"/>
<circle cx="109.29" cy="384.60" r="7.1" fill="url(#gb)"/>
<circle cx="124.36" cy="385.70" r="7.1" fill="url(#gb)"/>
<circle cx="139.43" cy="382.30" r="7.1" fill="url(#gb)"/>
<circle cx="154.50" cy="376.80" r="7.1" fill="url(#gb)"/>
<circle cx="169.57" cy="371.00" r="7.1" fill="url(#gb)"/>
<circle cx="184.64" cy="362.20" r="7.1" fill="url(#gb)"/>
<circle cx="199.71" cy="352.00" r="7.1" fill="url(#gb)"/>
<circle cx="214.78" cy="340.50" r="7.1" fill="url(#gb)"/>
<circle cx="229.85" cy="330.50" r="7.1" fill="url(#gb)"/>
<circle cx="244.92" cy="315.40" r="7.1" fill="url(#gb)"/>
<circle cx="259.99" cy="303.70" r="7.1" fill="url(#gb)"/>
<circle cx="275.06" cy="289.20" r="7.1" fill="url(#gb)"/>
<circle cx="290.13" cy="275.10" r="7.1" fill="url(#gb)"/>
<circle cx="305.20" cy="261.80" r="7.1" fill="url(#gb)"/>
<circle cx="79.15" cy="386.70" r="7.1" fill="url(#gr)"/>
<circle cx="94.22" cy="390.00" r="7.1" fill="url(#gr)"/>
<circle cx="109.29" cy="389.60" r="7.1" fill="url(#gr)"/>
<circle cx="124.36" cy="389.60" r="7.1" fill="url(#gr)"/>
<circle cx="139.43" cy="385.50" r="7.1" fill="url(#gr)"/>
<circle cx="154.50" cy="382.10" r="7.1" fill="url(#gr)"/>
<circle cx="169.57" cy="376.30" r="7.1" fill="url(#gr)"/>
<circle cx="184.64" cy="367.90" r="7.1" fill="url(#gr)"/>
<circle cx="199.71" cy="359.60" r="7.1" fill="url(#gr)"/>
<circle cx="214.78" cy="346.60" r="7.1" fill="url(#gr)"/>
<circle cx="229.85" cy="329.40" r="7.1" fill="url(#gr)"/>
<circle cx="244.92" cy="320.50" r="7.1" fill="url(#gr)"/>
<circle cx="259.99" cy="300.50" r="7.1" fill="url(#gr)"/>
<circle cx="275.06" cy="284.20" r="7.1" fill="url(#gr)"/>
<circle cx="290.13" cy="267.40" r="7.1" fill="url(#gr)"/>
<circle cx="305.20" cy="261.00" r="7.1" fill="url(#gr)"/>
<line x1="77.5" y1="395.3" x2="80.7" y2="395.3" stroke="#C86464" stroke-width="1.1"/>
<line x1="92.6" y1="398.6" x2="95.8" y2="398.6" stroke="#C86464" stroke-width="1.1"/>
<line x1="107.7" y1="398.3" x2="110.9" y2="398.3" stroke="#C86464" stroke-width="1.1"/>
<line x1="122.8" y1="398.6" x2="126.0" y2="398.6" stroke="#C86464" stroke-width="1.1"/>
<path d="M79.15,387.45 L82.92,387.23 L86.69,386.99 L90.45,386.72 L94.22,386.43 L97.99,386.11 L101.75,385.77 L105.52,385.39 L109.29,384.98 L113.06,384.54 L116.83,384.05 L120.59,383.52 L124.36,382.95 L128.13,382.32 L131.90,381.64 L135.66,380.91 L139.43,380.11 L143.20,379.24 L146.97,378.31 L150.73,377.29 L154.50,376.20 L158.27,375.02 L162.03,373.75 L165.80,372.39 L169.57,370.92 L173.34,369.35 L177.10,367.66 L180.87,365.86 L184.64,363.95 L188.41,361.91 L192.18,359.74 L195.94,357.45 L199.71,355.03 L203.26,352.30 L207.12,349.45 L210.97,346.47 L214.83,343.36 L218.69,340.14 L222.54,336.81 L226.39,333.37 L230.25,329.83 L234.11,326.21 L237.96,322.51 L241.81,318.75 L245.67,314.95 L249.53,311.10 L253.38,307.24 L257.23,303.37 L261.09,299.52 L264.86,295.86 L268.62,292.24 L272.39,288.68 L276.16,285.19 L279.93,281.77 L283.70,278.45 L287.46,275.22 L291.23,272.11 L295.00,269.10 L298.76,266.22 L302.53,263.47 L306.30,260.84" fill="none" stroke="#E07474" stroke-width="2.6" stroke-linejoin="round" stroke-linecap="round"/>
<path d="M79.15,386.85 L82.92,386.63 L86.69,386.39 L90.45,386.12 L94.22,385.83 L97.99,385.51 L101.75,385.17 L105.52,384.79 L109.29,384.38 L113.06,383.94 L116.83,383.45 L120.59,382.92 L124.36,382.35 L128.13,381.72 L131.90,381.04 L135.66,380.31 L139.43,379.51 L143.20,378.64 L146.97,377.71 L150.73,376.69 L154.50,375.60 L158.27,374.42 L162.03,373.15 L165.80,371.79 L169.57,370.32 L173.34,368.75 L177.10,367.06 L180.87,365.26 L184.64,363.35 L188.41,361.31 L192.18,359.14 L195.94,356.85 L199.71,354.43 L203.48,351.88 L207.25,349.20 L211.01,346.39 L214.78,343.46 L218.55,340.42 L222.31,337.26 L226.08,333.99 L229.85,330.63 L233.62,327.19 L237.38,323.66 L241.15,320.08 L244.92,316.45 L248.69,312.78 L252.45,309.09 L256.22,305.40 L259.99,301.72 L263.76,298.06 L267.52,294.44 L271.29,290.88 L275.06,287.39 L278.83,283.97 L282.60,280.65 L286.36,277.42 L290.13,274.31 L293.90,271.30 L297.66,268.42 L301.43,265.67 L305.20,263.04" fill="none" stroke="#2F5DA3" stroke-width="3.3" stroke-linejoin="round" stroke-linecap="round"/>
<text class="thin" x="319.65" y="38.36" font-size="54.10" font-weight="normal" textLength="37.53" lengthAdjust="spacingAndGlyphs" fill="#111">C</text>
<g stroke="#111" stroke-width="2.9" fill="none">
<line x1="402.6" y1="73.50" x2="402.6" y2="389.20"/>
<line x1="397" y1="389.6" x2="661" y2="389.6"/>
</g>
<g stroke="#111" stroke-width="2.4">
<line x1="396.8" y1="389.20" x2="402.6" y2="389.20"/>
<line x1="396.8" y1="326.32" x2="402.6" y2="326.32"/>
<line x1="396.8" y1="263.44" x2="402.6" y2="263.44"/>
<line x1="396.8" y1="200.56" x2="402.6" y2="200.56"/>
<line x1="396.8" y1="137.68" x2="402.6" y2="137.68"/>
<line x1="396.8" y1="74.80" x2="402.6" y2="74.80"/>
<line x1="399.7" y1="357.76" x2="402.6" y2="357.76"/>
<line x1="399.7" y1="294.88" x2="402.6" y2="294.88"/>
<line x1="399.7" y1="232.00" x2="402.6" y2="232.00"/>
<line x1="399.7" y1="169.12" x2="402.6" y2="169.12"/>
<line x1="399.7" y1="106.24" x2="402.6" y2="106.24"/>
<line x1="417.30" y1="389.6" x2="417.30" y2="394.5"/>
<line x1="447.57" y1="389.6" x2="447.57" y2="394.5"/>
<line x1="477.84" y1="389.6" x2="477.84" y2="394.5"/>
<line x1="508.11" y1="389.6" x2="508.11" y2="394.5"/>
<line x1="538.38" y1="389.6" x2="538.38" y2="394.5"/>
<line x1="568.65" y1="389.6" x2="568.65" y2="394.5"/>
<line x1="598.92" y1="389.6" x2="598.92" y2="394.5"/>
<line x1="629.19" y1="389.6" x2="629.19" y2="394.5"/>
<line x1="659.46" y1="389.6" x2="659.46" y2="394.5"/>
</g>
<text x="372.13" y="394.11" font-size="18.64" font-weight="bold" textLength="20.74" lengthAdjust="spacingAndGlyphs" fill="#111">50</text>
<text x="361.77" y="331.23" font-size="18.64" font-weight="bold" textLength="31.11" lengthAdjust="spacingAndGlyphs" fill="#111">100</text>
<rect x="362.04" y="328.83" width="3.86" height="3.50" fill="#fff"/>
<rect x="368.90" y="328.83" width="3.52" height="3.50" fill="#fff"/>
<text x="361.77" y="268.35" font-size="18.64" font-weight="bold" textLength="31.11" lengthAdjust="spacingAndGlyphs" fill="#111">150</text>
<rect x="362.04" y="265.95" width="3.86" height="3.50" fill="#fff"/>
<rect x="368.90" y="265.95" width="3.52" height="3.50" fill="#fff"/>
<text x="361.77" y="205.47" font-size="18.64" font-weight="bold" textLength="31.11" lengthAdjust="spacingAndGlyphs" fill="#111">200</text>
<text x="361.77" y="142.59" font-size="18.64" font-weight="bold" textLength="31.11" lengthAdjust="spacingAndGlyphs" fill="#111">250</text>
<text x="361.81" y="79.70" font-size="18.62" font-weight="bold" textLength="31.06" lengthAdjust="spacingAndGlyphs" fill="#111">300</text>
<text x="403.01" y="414.18" font-size="20.45" font-weight="bold" textLength="28.43" lengthAdjust="spacingAndGlyphs" fill="#111">7.3</text>
<text x="441.31" y="414.40" font-size="21.08" font-weight="bold" textLength="11.72" lengthAdjust="spacingAndGlyphs" fill="#111">4</text>
<text x="473.66" y="416.34" font-size="25.21" font-weight="bold" textLength="8.40" lengthAdjust="spacingAndGlyphs" fill="#111">-</text>
<text x="493.82" y="414.18" font-size="20.45" font-weight="bold" textLength="28.43" lengthAdjust="spacingAndGlyphs" fill="#111">7.3</text>
<text x="532.12" y="414.40" font-size="21.08" font-weight="bold" textLength="11.72" lengthAdjust="spacingAndGlyphs" fill="#111">4</text>
<text x="564.47" y="416.34" font-size="25.21" font-weight="bold" textLength="8.40" lengthAdjust="spacingAndGlyphs" fill="#111">-</text>
<text x="584.63" y="414.18" font-size="20.45" font-weight="bold" textLength="28.43" lengthAdjust="spacingAndGlyphs" fill="#111">7.3</text>
<text x="622.93" y="414.40" font-size="21.08" font-weight="bold" textLength="11.72" lengthAdjust="spacingAndGlyphs" fill="#111">4</text>
<rect x="399.20" y="421.90" width="70.80" height="9.30" fill="#3265A1"/>
<rect x="490.10" y="421.60" width="70.50" height="9.40" fill="#3ACA7A"/>
<rect x="576.20" y="421.60" width="70.60" height="9.40" fill="#E27676"/>
<text x="408.88" y="451.40" font-size="22.09" font-weight="bold" textLength="32.65" lengthAdjust="spacingAndGlyphs" fill="#111">WT</text>
<text x="512.48" y="451.20" font-size="21.80" font-weight="bold" textLength="29.65" lengthAdjust="spacingAndGlyphs" fill="#111">4M</text>
<text x="598.14" y="452.39" font-size="21.06" font-weight="bold" textLength="29.38" lengthAdjust="spacingAndGlyphs" fill="#111">5M</text>
<g transform="translate(349.8,257) rotate(-90)">
<text x="1.08" y="0.00" font-size="19.20" font-weight="bold" textLength="11.54" lengthAdjust="spacingAndGlyphs" fill="#111">V</text>
<text x="14.13" y="2.80" font-size="11.50" font-weight="bold" textLength="16.40" lengthAdjust="spacingAndGlyphs" fill="#111">0.5</text>
<text x="35.71" y="1.00" font-size="19.50" font-weight="bold" textLength="48.59" lengthAdjust="spacingAndGlyphs" fill="#111">(mV)</text>
</g>
<g stroke="#111" stroke-width="2.2" fill="none">
<path d="M416.7,89.2 L416.7,65.5 L447.4,65.5 L447.4,270"/>
<path d="M505.8,208.9 L505.8,199.5 L541.3,199.5 L541.3,231.9"/>
<path d="M596.8,219.3 L596.8,197.8 L628.8,197.8 L628.8,257.8"/>
</g>
<text x="420.98" y="68.70" font-size="39.25" font-weight="bold" textLength="15.97" lengthAdjust="spacingAndGlyphs" fill="#111">*</text>
<text x="514.07" y="194.49" font-size="39.52" font-weight="bold" textLength="16.27" lengthAdjust="spacingAndGlyphs" fill="#111">*</text>
<text x="602.57" y="194.74" font-size="40.32" font-weight="bold" textLength="16.68" lengthAdjust="spacingAndGlyphs" fill="#111">*</text>
<defs>
<radialGradient id="sb" cx="0.5" cy="0.5" r="0.5" fx="0.3" fy="0.25"><stop offset="0" stop-color="#dfe8f5"/><stop offset="0.25" stop-color="#5d86c0"/><stop offset="0.6" stop-color="#3464a6"/><stop offset="1" stop-color="#2d5a98"/></radialGradient>
<radialGradient id="sg" cx="0.5" cy="0.5" r="0.5" fx="0.3" fy="0.25"><stop offset="0" stop-color="#d8f5e4"/><stop offset="0.25" stop-color="#62d996"/><stop offset="0.6" stop-color="#3cc97b"/><stop offset="1" stop-color="#35b86f"/></radialGradient>
<radialGradient id="sp" cx="0.5" cy="0.5" r="0.5" fx="0.3" fy="0.25"><stop offset="0" stop-color="#fbe3e3"/><stop offset="0.25" stop-color="#ec9a9a"/><stop offset="0.6" stop-color="#e27676"/><stop offset="1" stop-color="#d66a6a"/></radialGradient>
</defs>
<line x1="417.40" y1="99.80" x2="417.40" y2="139.40" stroke="#3A66A8" stroke-width="1.6"/>
<rect x="411.20" y="122.30" width="12.40" height="10.70" fill="none" stroke="#3A66A8" stroke-width="1.6"/>
<path d="M410.00,92.40 L424.80,107.20 M410.00,107.20 L424.80,92.40" stroke="#3A66A8" stroke-width="1.5" fill="none"/>
<path d="M410.00,132.00 L424.80,146.80 M410.00,146.80 L424.80,132.00" stroke="#3A66A8" stroke-width="1.5" fill="none"/>
<line x1="411.20" y1="99.80" x2="423.60" y2="99.80" stroke="#3A66A8" stroke-width="1.5"/>
<line x1="411.20" y1="139.40" x2="423.60" y2="139.40" stroke="#3A66A8" stroke-width="1.5"/>
<circle cx="417.10" cy="99.80" r="3.1" fill="#fff" stroke="#3A66A8" stroke-width="1.5"/>
<circle cx="417.20" cy="138.60" r="3.1" fill="#fff" stroke="#3A66A8" stroke-width="1.5"/>
<line x1="447.60" y1="276.00" x2="447.60" y2="295.70" stroke="#3A66A8" stroke-width="1.6"/>
<rect x="441.40" y="279.40" width="12.40" height="10.80" fill="none" stroke="#3A66A8" stroke-width="1.6"/>
<path d="M440.20,268.60 L455.00,283.40 M440.20,283.40 L455.00,268.60" stroke="#3A66A8" stroke-width="1.5" fill="none"/>
<path d="M440.20,288.30 L455.00,303.10 M440.20,303.10 L455.00,288.30" stroke="#3A66A8" stroke-width="1.5" fill="none"/>
<line x1="441.40" y1="276.00" x2="453.80" y2="276.00" stroke="#3A66A8" stroke-width="1.5"/>
<line x1="441.40" y1="295.70" x2="453.80" y2="295.70" stroke="#3A66A8" stroke-width="1.5"/>
<circle cx="446.30" cy="276.50" r="5.0" fill="url(#sb)"/>
<circle cx="445.30" cy="283.30" r="5.0" fill="url(#sb)"/>
<circle cx="445.30" cy="289.40" r="5.0" fill="url(#sb)"/>
<circle cx="446.30" cy="296.00" r="5.0" fill="url(#sb)"/>
<line x1="508.10" y1="216.40" x2="508.10" y2="231.10" stroke="#3CC97B" stroke-width="1.6"/>
<rect x="501.90" y="215.60" width="12.40" height="12.10" fill="none" stroke="#3CC97B" stroke-width="1.6"/>
<path d="M500.70,209.00 L515.50,223.80 M500.70,223.80 L515.50,209.00" stroke="#3CC97B" stroke-width="1.5" fill="none"/>
<path d="M500.70,223.70 L515.50,238.50 M500.70,238.50 L515.50,223.70" stroke="#3CC97B" stroke-width="1.5" fill="none"/>
<line x1="501.90" y1="216.40" x2="514.30" y2="216.40" stroke="#3CC97B" stroke-width="1.5"/>
<line x1="501.90" y1="231.10" x2="514.30" y2="231.10" stroke="#3CC97B" stroke-width="1.5"/>
<circle cx="508.10" cy="216.00" r="3.1" fill="#fff" stroke="#3CC97B" stroke-width="1.5"/>
<circle cx="505.20" cy="223.50" r="3.1" fill="#fff" stroke="#3CC97B" stroke-width="1.5"/>
<circle cx="510.20" cy="224.00" r="3.1" fill="#fff" stroke="#3CC97B" stroke-width="1.5"/>
<circle cx="508.50" cy="230.20" r="3.1" fill="#fff" stroke="#3CC97B" stroke-width="1.5"/>
<line x1="538.70" y1="242.10" x2="538.70" y2="312.20" stroke="#3CC97B" stroke-width="1.6"/>
<rect x="532.50" y="270.80" width="12.40" height="11.50" fill="none" stroke="#3CC97B" stroke-width="1.6"/>
<path d="M531.30,234.70 L546.10,249.50 M531.30,249.50 L546.10,234.70" stroke="#3CC97B" stroke-width="1.5" fill="none"/>
<path d="M531.30,304.80 L546.10,319.60 M531.30,319.60 L546.10,304.80" stroke="#3CC97B" stroke-width="1.5" fill="none"/>
<line x1="532.50" y1="242.10" x2="544.90" y2="242.10" stroke="#3CC97B" stroke-width="1.5"/>
<line x1="532.50" y1="312.20" x2="544.90" y2="312.20" stroke="#3CC97B" stroke-width="1.5"/>
<circle cx="541.00" cy="241.20" r="4.0" fill="url(#sg)"/>
<circle cx="534.70" cy="259.20" r="4.0" fill="url(#sg)"/>
<circle cx="538.10" cy="269.20" r="4.0" fill="url(#sg)"/>
<circle cx="540.60" cy="303.40" r="4.0" fill="url(#sg)"/>
<circle cx="536.20" cy="310.30" r="4.0" fill="url(#sg)"/>
<line x1="598.80" y1="227.00" x2="598.80" y2="261.00" stroke="#E27878" stroke-width="1.6"/>
<rect x="592.60" y="237.40" width="12.40" height="11.60" fill="none" stroke="#E27878" stroke-width="1.6"/>
<path d="M591.40,219.60 L606.20,234.40 M591.40,234.40 L606.20,219.60" stroke="#E27878" stroke-width="1.5" fill="none"/>
<path d="M591.40,253.60 L606.20,268.40 M591.40,268.40 L606.20,253.60" stroke="#E27878" stroke-width="1.5" fill="none"/>
<line x1="592.60" y1="227.00" x2="605.00" y2="227.00" stroke="#E27878" stroke-width="1.5"/>
<line x1="592.60" y1="261.00" x2="605.00" y2="261.00" stroke="#E27878" stroke-width="1.5"/>
<circle cx="596.80" cy="226.50" r="3.1" fill="#fff" stroke="#E27878" stroke-width="1.5"/>
<circle cx="598.00" cy="240.90" r="3.1" fill="#fff" stroke="#E27878" stroke-width="1.5"/>
<circle cx="598.50" cy="244.90" r="3.1" fill="#fff" stroke="#E27878" stroke-width="1.5"/>
<circle cx="599.70" cy="261.00" r="3.1" fill="#fff" stroke="#E27878" stroke-width="1.5"/>
<line x1="629.30" y1="265.40" x2="629.30" y2="299.90" stroke="#E27878" stroke-width="1.6"/>
<rect x="623.10" y="276.30" width="12.40" height="12.10" fill="none" stroke="#E27878" stroke-width="1.6"/>
<path d="M621.90,258.00 L636.70,272.80 M621.90,272.80 L636.70,258.00" stroke="#E27878" stroke-width="1.5" fill="none"/>
<path d="M621.90,292.50 L636.70,307.30 M621.90,307.30 L636.70,292.50" stroke="#E27878" stroke-width="1.5" fill="none"/>
<line x1="623.10" y1="265.40" x2="635.50" y2="265.40" stroke="#E27878" stroke-width="1.5"/>
<line x1="623.10" y1="299.90" x2="635.50" y2="299.90" stroke="#E27878" stroke-width="1.5"/>
<circle cx="629.30" cy="265.40" r="4.5" fill="url(#sp)"/>
<circle cx="624.70" cy="276.90" r="4.5" fill="url(#sp)"/>
<circle cx="629.30" cy="280.80" r="4.5" fill="url(#sp)"/>
<circle cx="629.30" cy="288.40" r="4.5" fill="url(#sp)"/>
<circle cx="628.10" cy="299.30" r="4.5" fill="url(#sp)"/>
</svg>
</body></html>
